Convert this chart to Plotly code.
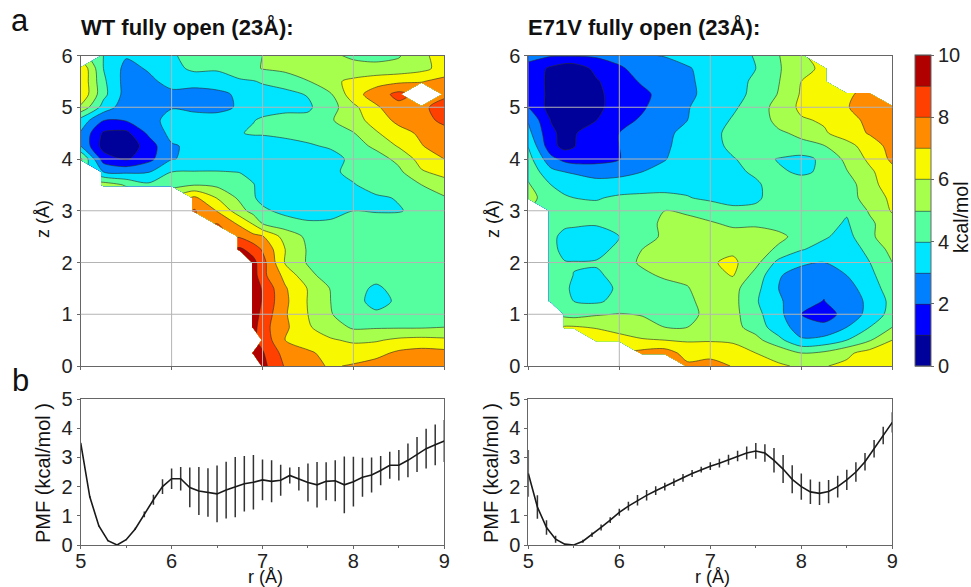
import plotly.graph_objects as go

W, H = 971, 587
n = None

r_wt = [5.0, 5.25, 5.5, 5.75, 6.0, 6.25, 6.5, 6.75, 6.9, 7.0, 7.25, 7.5, 7.75, 8.0, 8.25, 8.5, 8.75, 9.0]
r_mut = [5.0, 5.25, 5.4, 5.5, 5.75, 6.0, 6.25, 6.5, 6.75, 7.0, 7.25, 7.5, 7.75, 8.0, 8.25, 8.5, 8.75, 9.0]
z_axis = [6.0, 5.75, 5.5, 5.25, 5.0, 4.75, 4.5, 4.25, 4.0, 3.75, 3.5, 3.25, 3.0, 2.75, 2.5, 2.25, 2.0, 1.75, 1.5, 1.25, 1.0, 0.75, 0.5, 0.25, 0.0]

wt_map = [
    [n, 4.0, 3.1, 3.3, 3.9, 4.3, 4.5, 4.8, 4.95, 5.0, 5.4, 5.5, 5.2, 4.8, 4.7, 4.9, 5.9, 6.2],
    [6.9, 4.0, 2.7, 3.1, 3.7, 4.2, 4.1, 4.4, 4.8, 5.05, 5.3, 5.6, 5.9, 5.4, 5.3, 5.4, 5.7, 6.4],
    [6.9, 4.2, 2.6, 2.8, 3.3, 3.4, 3.6, 3.9, 3.95, 4.1, 4.3, 4.95, 5.8, 6.2, 6.6, 6.8, 6.95, 7.3],
    [6.9, 4.3, 2.6, 2.4, 2.8, 2.6, 2.7, 3.2, 3.5, 3.6, 3.8, 4.05, 4.9, 6.6, 7.5, 8.3, n, 7.8],
    [5.8, 3.6, 2.4, 2.3, 2.95, 2.7, 2.5, 3.2, 3.5, 3.7, 3.8, 3.85, 4.6, 5.75, 6.85, 7.7, 7.8, 8.4],
    [3.6, 2.05, 2.1, 2.7, 3.3, 3.5, 3.7, 3.8, 3.97, 4.1, 4.25, 4.25, 4.9, 5.6, 6.4, 7.3, 7.7, 8.2],
    [2.9, 0.85, 0.75, 2.2, 3.3, 3.5, 3.6, 3.95, 4.1, 4.1, 4.2, 4.3, 4.5, 4.95, 5.9, 6.6, 7.2, 7.7],
    [3.0, 0.6, 0.3, 1.5, 2.9, 3.2, 3.3, 3.4, 3.45, 3.5, 3.7, 3.9, 4.1, 4.6, 5.2, 6.1, 6.95, 7.5],
    [5.2, 1.5, 0.85, 1.7, 2.95, 3.2, 3.3, 3.3, 3.3, 3.3, 3.4, 3.5, 3.7, 4.2, 4.6, 5.25, 6.4, 7.0],
    [n, 3.0, 2.8, 2.95, 4.0, 4.05, 4.05, 3.98, 3.7, 3.5, 3.5, 3.7, 3.85, 4.2, 4.4, 4.8, 5.9, 6.3],
    [n, 5.5, 4.9, 4.2, 4.6, 4.95, 4.8, 4.3, 4.05, 3.6, 3.3, 3.4, 3.85, 3.95, 4.3, 4.5, 5.0, 5.6],
    [n, n, n, n, n, 7.2, 5.95, 4.8, 4.1, 3.7, 3.3, 3.3, 3.6, 3.97, 3.9, 4.05, 4.3, 4.9],
    [n, n, n, n, n, 8.1, 6.95, 5.4, 4.6, 4.2, 3.7, 3.4, 3.6, 4.0, 3.95, 3.95, 4.2, 4.45],
    [n, n, n, n, n, n, 8.0, 6.8, 5.9, 5.0, 4.5, 4.2, 4.2, 4.3, 4.3, 4.35, 4.3, 4.3],
    [n, n, n, n, n, n, n, 7.9, 7.3, 7.1, 5.6, 4.8, 4.3, 4.3, 4.3, 4.3, 4.3, 4.3],
    [n, n, n, n, n, n, n, 9.2, 8.6, 7.9, 6.0, 4.9, 4.2, 4.2, 4.2, 4.2, 4.2, 4.2],
    [n, n, n, n, n, n, n, n, 9.3, 8.4, 5.9, 4.9, 4.2, 4.1, 4.1, 4.1, 4.1, 4.2],
    [n, n, n, n, n, n, n, n, 9.5, 8.3, 6.7, 5.3, 4.5, 4.1, 4.1, 4.1, 4.2, 4.2],
    [n, n, n, n, n, n, n, n, 9.6, 8.9, 7.1, 5.95, 4.95, 4.1, 3.95, 4.1, 4.2, 4.2],
    [n, n, n, n, n, n, n, n, 9.7, 8.9, 7.2, 5.95, 5.0, 4.2, 3.8, 4.1, 4.2, 4.2],
    [n, n, n, n, n, n, n, n, 9.5, 8.7, 7.1, 6.0, 5.05, 4.5, 4.1, 4.4, 4.5, 4.6],
    [n, n, n, n, n, n, n, n, 9.4, 8.4, 7.2, 6.1, 5.5, 4.85, 4.9, 4.9, 4.9, 5.0],
    [n, n, n, n, n, n, n, n, n, 8.7, 7.0, 6.4, 6.1, 5.85, 5.9, 6.2, 6.3, 6.2],
    [n, n, n, n, n, n, n, n, 9.4, 9.1, 7.6, 7.2, 6.6, 6.5, 6.7, 7.2, 7.4, 7.3],
    [n, n, n, n, n, n, n, n, n, 9.3, 7.9, 7.3, 6.9, 7.1, 7.4, 7.6, 7.7, 7.6],
]

e71v_map = [
    [2.3, 2.1, 2.1, 2.1, 2.15, 2.4, 2.9, 3.05, 3.4, 3.6, 3.75, 4.05, 4.95, 5.95, n, n, n, n],
    [1.7, 0.8, 0.35, 0.35, 1.3, 1.85, 2.4, 2.6, 2.9, 3.4, 3.7, 4.0, 4.9, 5.7, 6.2, n, n, n],
    [1.6, 0.75, 0.45, 0.4, 0.9, 1.6, 2.1, 2.5, 2.85, 3.3, 3.6, 4.2, 4.95, 6.0, 6.4, n, n, n],
    [1.8, 0.7, 0.35, 0.3, 0.8, 1.4, 1.8, 2.3, 2.8, 3.3, 3.6, 4.3, 5.05, 6.1, 6.3, 6.8, 7.4, n],
    [2.0, 0.6, 0.35, 0.3, 0.8, 1.4, 1.9, 2.4, 2.95, 3.4, 3.85, 4.5, 5.35, 6.2, 6.5, 6.95, 7.4, 7.5],
    [2.9, 0.95, 0.8, 0.85, 1.0, 1.75, 2.1, 2.6, 3.0, 3.5, 4.1, 4.4, 5.3, 5.9, 6.1, 6.7, 7.2, 7.5],
    [3.3, 1.2, 0.7, 0.95, 1.3, 2.0, 2.3, 2.7, 3.4, 3.7, 4.3, 4.5, 4.85, 5.2, 5.9, 6.4, 7.1, 7.7],
    [3.95, 1.3, 0.7, 0.95, 1.5, 2.0, 2.4, 2.8, 3.5, 3.7, 4.2, 4.45, 4.65, 4.75, 4.95, 5.7, 6.4, 7.4],
    [4.4, 2.3, 1.7, 1.5, 1.6, 1.97, 2.5, 2.95, 3.5, 3.75, 3.95, 4.3, 3.95, 3.7, 4.2, 5.25, 6.2, 7.2],
    [4.7, 3.3, 3.0, 2.9, 2.7, 2.8, 3.0, 3.3, 3.5, 3.7, 3.85, 4.1, 4.1, 3.9, 4.1, 4.95, 5.8, 6.7],
    [5.1, 4.0, 3.7, 3.55, 3.3, 3.3, 3.6, 3.85, 3.75, 3.7, 3.6, 3.9, 4.3, 4.3, 4.5, 4.7, 5.4, 6.9],
    [5.4, 4.4, 4.1, 4.0, 3.9, 4.2, 4.2, 4.1, 4.05, 3.8, 3.7, 3.85, 4.4, 4.5, 4.5, 4.8, 5.2, 6.3],
    [n, 4.8, 4.6, 4.4, 4.4, 4.5, 4.7, 5.0, 4.8, 4.6, 4.2, 4.2, 4.5, 4.6, 4.5, 4.1, 5.1, 6.1],
    [n, 4.6, 4.4, 4.2, 4.1, 4.35, 4.6, 5.2, 5.4, 5.1, 4.85, 4.9, 4.7, 4.6, 4.3, 3.9, 4.8, 5.6],
    [n, 4.5, 3.4, 3.5, 3.5, 3.98, 4.5, 5.2, 5.3, 5.4, 5.35, 5.3, 5.2, 4.7, 4.1, 3.7, 4.7, 5.9],
    [n, 4.6, 3.4, 3.5, 3.6, 4.3, 5.0, 5.4, 5.5, 5.75, 5.8, 5.4, 4.85, 4.05, 3.7, 3.4, 4.3, 5.3],
    [n, 4.6, 4.1, 4.05, 4.1, 4.7, 5.1, 5.4, 5.6, 5.9, 6.2, 5.3, 3.7, 3.2, 2.98, 3.3, 3.98, 5.0],
    [n, 4.5, 4.2, 3.98, 3.85, 4.3, 4.85, 5.1, 5.2, 5.7, 6.05, 4.6, 3.1, 2.5, 2.3, 3.0, 3.75, 4.7],
    [n, 4.4, 4.1, 3.9, 3.5, 4.2, 4.6, 4.75, 4.95, 5.5, 5.3, 4.3, 3.0, 2.3, 2.1, 2.6, 3.5, 4.5],
    [n, 4.5, 4.15, 4.0, 3.85, 4.3, 4.5, 4.6, 4.8, 5.4, 5.3, 4.1, 3.2, 2.2, 1.98, 2.5, 3.2, 4.3],
    [n, n, 4.7, 4.6, 4.9, 5.05, 4.95, 4.8, 4.8, 5.2, 5.3, 4.3, 3.3, 2.0, 1.5, 2.4, 3.3, 4.4],
    [n, n, 6.1, 6.1, 5.9, 5.6, 5.3, 5.0, 5.0, 5.4, 5.3, 4.6, 3.4, 2.6, 2.3, 3.0, 4.0, 5.0],
    [n, n, n, n, 6.8, 6.4, 6.1, 6.0, 5.9, 5.95, 5.9, 5.3, 4.3, 3.1, 3.3, 4.0, 4.9, 6.0],
    [n, n, n, n, n, n, 7.3, 7.5, 6.6, 6.4, 6.3, 6.0, 5.7, 5.0, 5.2, 5.8, 6.4, 6.9],
    [n, n, n, n, n, n, n, n, 7.2, 7.7, 6.9, 6.4, 6.1, 5.9, 5.95, 6.2, 6.4, 6.5],
]

r_pmf = [5.0, 5.1, 5.2, 5.3, 5.4, 5.5, 5.6, 5.7, 5.8, 5.9, 6.0, 6.1, 6.2, 6.3, 6.4, 6.5, 6.6, 6.7, 6.8, 6.9, 7.0,
         7.1, 7.2, 7.3, 7.4, 7.5, 7.6, 7.7, 7.8, 7.9, 8.0, 8.1, 8.2, 8.3, 8.4, 8.5, 8.6, 8.7, 8.8, 8.9, 9.0]
wt_pmf = [3.5, 1.65, 0.65, 0.15, 0.0, 0.18, 0.55, 1.05, 1.55, 2.0, 2.27, 2.27, 1.97, 1.85, 1.8, 1.75, 1.88, 1.98, 2.1, 2.15, 2.23,
          2.18, 2.22, 2.38, 2.27, 2.14, 2.06, 2.18, 2.2, 2.06, 2.17, 2.32, 2.4, 2.55, 2.73, 2.73, 2.9, 3.1, 3.3, 3.43, 3.56]
wt_err = [0.0, 0.02, 0.02, 0.02, 0.0, 0.02, 0.04, 0.1, 0.17, 0.25, 0.35, 0.4, 0.68, 0.82, 0.83, 0.97, 0.97, 1.03, 0.95, 0.93, 0.7,
          0.72, 0.53, 0.27, 0.4, 0.65, 0.78, 0.65, 0.7, 0.97, 0.85, 0.67, 0.6, 0.5, 0.46, 0.52, 0.58, 0.6, 0.68, 0.7, 0.72]
e71v_pmf = [2.45, 1.3, 0.6, 0.2, 0.03, 0.0, 0.13, 0.35, 0.6, 0.85, 1.12, 1.33, 1.53, 1.7, 1.86, 2.0, 2.15, 2.3, 2.45, 2.58, 2.7,
            2.8, 2.92, 3.05, 3.15, 3.22, 3.15, 2.9, 2.6, 2.25, 2.0, 1.82, 1.77, 1.83, 2.0, 2.23, 2.5, 2.85, 3.3, 3.75, 4.2]
e71v_err = [0.8, 0.4, 0.25, 0.12, 0.0, 0.0, 0.05, 0.08, 0.1, 0.1, 0.12, 0.15, 0.18, 0.18, 0.15, 0.13, 0.13, 0.13, 0.12, 0.1, 0.13,
            0.15, 0.17, 0.18, 0.22, 0.27, 0.3, 0.42, 0.48, 0.48, 0.45, 0.42, 0.4, 0.4, 0.37, 0.35, 0.33, 0.3, 0.3, 0.3, 0.35]

band_colors = ["#00009b", "#0000ff", "#0080ff", "#00e5ff", "#55ff9f", "#a6ff4d", "#f8f800", "#ff8c00", "#ff4000", "#b00000"]
r_ticks = [5, 6, 7, 8, 9]
z_ticks = [0, 1, 2, 3, 4, 5, 6]
pmf_ticks = [0, 1, 2, 3, 4, 5]
bar_ticks = [0, 2, 4, 6, 8, 10]
FONT = "Liberation Sans"
INK = "#222222"
FRAME = "#666666"
GRID = "#b4b4b4"

scale = []
for i, c in enumerate(band_colors):
    scale += [[i / 10, c], [(i + 1) / 10, c]]


def fx(px):
    return px / W


def fy(px):
    return 1 - px / H


L1 = (80.7, 444.3)
L2 = (528.3, 892.3)
TOP = (55.5, 366.0)
BOT = (399.0, 545.0)


def contour(x, z, xa, ya, show):
    return go.Contour(
        x=x, y=z_axis[::-1], z=z[::-1], xaxis=xa, yaxis=ya, zmin=0, zmax=10,
        colorscale=scale, connectgaps=False, showscale=show, hoverongaps=False,
        contours=dict(start=0, end=10, size=1, coloring="fill"),
        line=dict(color="#2a2a2a", width=0.6, smoothing=0.8),
        colorbar=dict(
            x=fx(915.3), xanchor="left", y=fy(366), yanchor="bottom", len=(366 - 55.5) / H,
            thickness=15.7, thicknessmode="pixels", lenmode="fraction", outlinecolor=FRAME, outlinewidth=1,
            tickvals=bar_ticks, ticks="outside", ticklen=3, tickcolor=FRAME,
            tickfont=dict(family=FONT, size=20, color=INK), xpad=0, ypad=0,
        ),
    )


def pmf(y, err, xa, ya):
    return go.Scatter(
        x=r_pmf, y=y, xaxis=xa, yaxis=ya, mode="lines", showlegend=False,
        line=dict(color="#1a1a1a", width=1.6),
        error_y=dict(type="data", array=err, visible=True, width=0, thickness=1.5, color="#333333"),
    )


fig = go.Figure([
    contour(r_wt, wt_map, "x", "y", False),
    contour(r_mut, e71v_map, "x2", "y2", True),
    pmf(wt_pmf, wt_err, "x3", "y3"),
    pmf(e71v_pmf, e71v_err, "x4", "y4"),
])


def axis(dom, vals, rng, anchor, labels=True, horizontal=True, minor=None):
    a, b = dom
    domain = [fx(a), fx(b)] if horizontal else [fy(b), fy(a)]
    out = dict(
        domain=domain, range=rng, tickvals=vals, anchor=anchor, showgrid=False, zeroline=False,
        showline=True, mirror=True, linecolor=FRAME, linewidth=1, ticks="outside", ticklen=3,
        tickcolor=FRAME, showticklabels=labels, layer="above traces", automargin=False,
        tickfont=dict(family=FONT, size=20, color=INK),
    )
    if horizontal:
        out["ticklabelstandoff"] = -5
    if minor:
        out["minor"] = dict(dtick=minor, ticks="outside", ticklen=2, tickcolor=FRAME, showgrid=False)
    return out


shapes = []
for xr, yr in (("x", "y"), ("x2", "y2")):
    for t in r_ticks[1:-1]:
        shapes.append(dict(type="line", xref=xr, yref=f"{yr} domain", x0=t, x1=t, y0=0, y1=1,
                           line=dict(color=GRID, width=1), layer="above"))
    for t in z_ticks[1:-1]:
        shapes.append(dict(type="line", xref=f"{xr} domain", yref=yr, x0=0, x1=1, y0=t, y1=t,
                           line=dict(color=GRID, width=1), layer="above"))


def note(text, x, y, size, bold=False, angle=0, anchor="center"):
    return dict(text=f"<b>{text}</b>" if bold else text, x=fx(x), y=fy(y), xref="paper", yref="paper",
                showarrow=False, textangle=angle, xanchor=anchor, yanchor="middle",
                font=dict(family=FONT, size=size, color="#111111"))


notes = [
    note("a", 20, 20, 31),
    note("b", 20, 381, 31),
    note("WT fully open (23Å):", 79, 27, 22, bold=True, anchor="left"),
    note("E71V fully open (23Å):", 526, 27, 22, bold=True, anchor="left"),
    note("z (Å)", 43, 219, 18, angle=-90),
    note("z (Å)", 493, 219, 18, angle=-90),
    note("PMF (kcal/mol )", 43, 473, 20, angle=-90),
    note("PMF (kcal/mol )", 491, 473, 20, angle=-90),
    note("r (Å)", 265, 577, 18),
    note("r (Å)", 712, 577, 18),
    note("kcal/mol", 961, 217, 19.5, angle=-90),
]

fig.update_layout(
    width=W, height=H, margin=dict(l=0, r=0, t=0, b=0, autoexpand=False), paper_bgcolor="white", plot_bgcolor="white",
    showlegend=False, shapes=shapes, annotations=notes,
    xaxis=axis(L1, r_ticks, [5, 9], "y", labels=False),
    yaxis=axis(TOP, z_ticks, [0, 6], "x", horizontal=False),
    xaxis2=axis(L2, r_ticks, [5, 9], "y2", labels=False),
    yaxis2=axis(TOP, z_ticks, [0, 6], "x2", horizontal=False),
    xaxis3=axis(L1, r_ticks, [5, 9], "y3", minor=0.5),
    yaxis3=axis(BOT, pmf_ticks, [0, 5], "x3", horizontal=False),
    xaxis4=axis(L2, r_ticks, [5, 9], "y4", minor=0.5),
    yaxis4=axis(BOT, pmf_ticks, [0, 5], "x4", horizontal=False),
)

fig.write_html("out.html", config=dict(displayModeBar=False), post_script="document.body.style.margin='0';")
